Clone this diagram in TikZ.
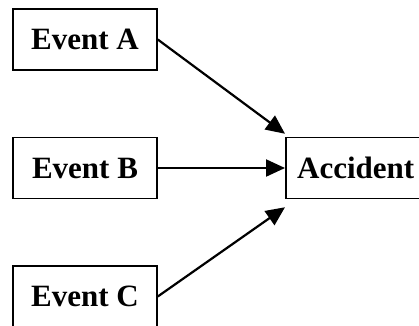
\documentclass[tikz,border=0pt]{standalone}
\usepackage{fontspec}
\setmainfont{Liberation Serif}
\usetikzlibrary{arrows.meta}
\begin{document}
\begin{tikzpicture}[x=1pt,y=-1pt,
  evbox/.style={draw, line width=1.5pt, minimum width=144pt, minimum height=61pt,
    inner sep=0pt, font=\bfseries\fontsize{31}{31}\selectfont},
  link/.style={line width=2.2pt, -{Triangle[length=19pt,width=17pt]}}]
  \useasboundingbox (0,0) rectangle (419,325);
  \node[evbox] (a) at (85,39.5) {Event A};
  \node[evbox] (b) at (85,168) {Event B};
  \node[evbox] (c) at (85,296.5) {Event C};
  \node[evbox, minimum width=140pt, anchor=west] (acc) at (285,168) {Accident};
  \draw[link] (a.east) -- ([yshift=3pt]acc.north west);
  \draw[link] (b.east) -- (acc.west);
  \draw[link] (c.east) -- ([yshift=-8pt]acc.south west);
\end{tikzpicture}
\end{document}
